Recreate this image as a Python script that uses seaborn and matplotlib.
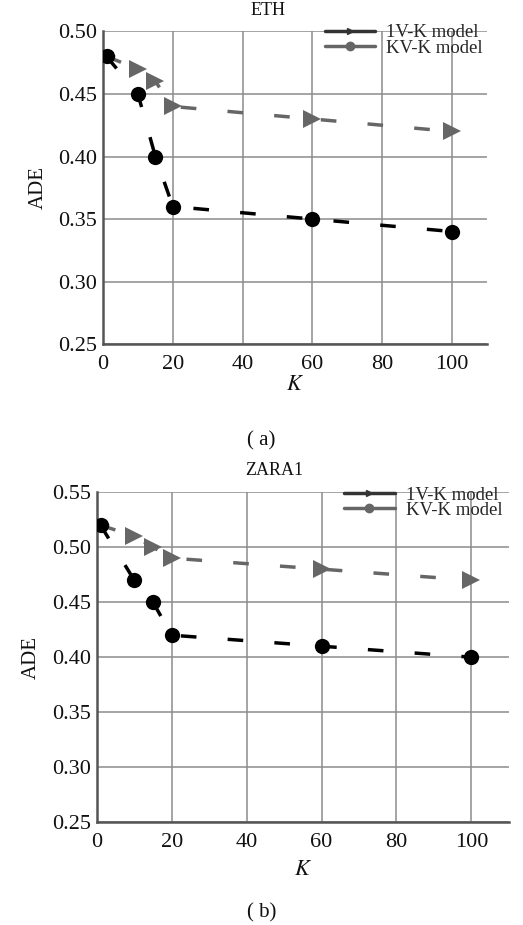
import numpy as np
import pandas as pd
import seaborn as sns
import matplotlib.pyplot as plt
from matplotlib.lines import Line2D

# K values and ADE readings for both datasets
k_values = [1, 10, 15, 20, 60, 100]
eth_1vk = [0.48, 0.45, 0.40, 0.36, 0.35, 0.34]
eth_kvk = [0.48, 0.47, 0.46, 0.44, 0.43, 0.42]
zara_1vk = [0.52, 0.47, 0.45, 0.42, 0.41, 0.40]
zara_kvk = [0.52, 0.51, 0.50, 0.49, 0.48, 0.47]

x_ticks = [0, 20, 40, 60, 80, 100]
eth_yticks = [0.25, 0.30, 0.35, 0.40, 0.45, 0.50]
zara_yticks = [0.25, 0.30, 0.35, 0.40, 0.45, 0.50, 0.55]

sns.set_theme(style="whitegrid")
plt.rcParams['font.family'] = ['Liberation Serif', 'DejaVu Serif']
plt.rcParams['mathtext.fontset'] = 'stix'

fig = plt.figure(figsize=(5.23, 9.25), dpi=100)
ax1 = fig.add_axes([0.197, 0.628, 0.734, 0.338])
ax2 = fig.add_axes([0.185, 0.111, 0.788, 0.357])


def draw(ax, black, gray, yticks, title, legend_anchor, klabelpad):
    df = pd.DataFrame({"K": k_values, "black": black, "gray": gray})
    sns.lineplot(data=df, x="K", y="gray", ax=ax, color="#666666", marker=">",
                 markersize=13, markeredgewidth=0, linewidth=2.5,
                 dashes=False, zorder=3)
    ax.lines[-1].set_dashes([4.5, 9])
    sns.lineplot(data=df, x="K", y="black", ax=ax, color="black", marker="o",
                 markersize=11, markeredgewidth=0, linewidth=2.5,
                 dashes=False, zorder=4)
    ax.lines[-1].set_dashes([4.5, 9])
    ax.set_xlim(0, 110)
    ax.set_ylim(yticks[0], yticks[-1])
    ax.set_xticks(x_ticks)
    ax.set_yticks(yticks)
    ax.set_yticklabels([f"{v:.2f}" for v in yticks])
    ax.grid(True, color="#8c8c8c", linewidth=1.1)
    ax.set_axisbelow(True)
    for s in ["top", "right"]:
        ax.spines[s].set_visible(False)
    for s in ["left", "bottom"]:
        ax.spines[s].set_color("#555555")
        ax.spines[s].set_linewidth(1.8)
    ax.tick_params(axis="y", length=0, labelsize=16, colors="#111111", pad=4)
    ax.tick_params(axis="x", length=0, labelsize=16, colors="#111111", pad=7.5)
    ax.set_xlabel("$K$", fontsize=16, labelpad=klabelpad, color="#111111")
    ax.set_ylabel("ADE", fontsize=15, color="#111111", labelpad=8)
    ax.set_title(title, fontsize=13, pad=12, color="#111111", x=0.43)
    handles = [
        Line2D([0], [0], color="#333333", lw=2.5, marker=">", markersize=5),
        Line2D([0], [0], color="#666666", lw=2.5, marker="o", markersize=6),
    ]
    ax.legend(handles, ["1V-K model", "KV-K model"], loc="upper right",
              bbox_to_anchor=legend_anchor, bbox_transform=fig.transFigure,
              frameon=False, fontsize=13.5, handlelength=2.7, labelspacing=-0.1,
              handletextpad=0.6, borderaxespad=0)


draw(ax1, eth_1vk, eth_kvk, eth_yticks, "ETH", (0.938, 0.982), 1.5)
draw(ax2, zara_1vk, zara_kvk, zara_yticks, "ZARA1", (0.975, 0.482), 7)

fig.text(0.5, 0.518, "( a)", ha="center", fontsize=15, color="#111111")
fig.text(0.5, 0.008, "( b)", ha="center", fontsize=15, color="#111111")

fig.savefig("out.png", dpi=100)
